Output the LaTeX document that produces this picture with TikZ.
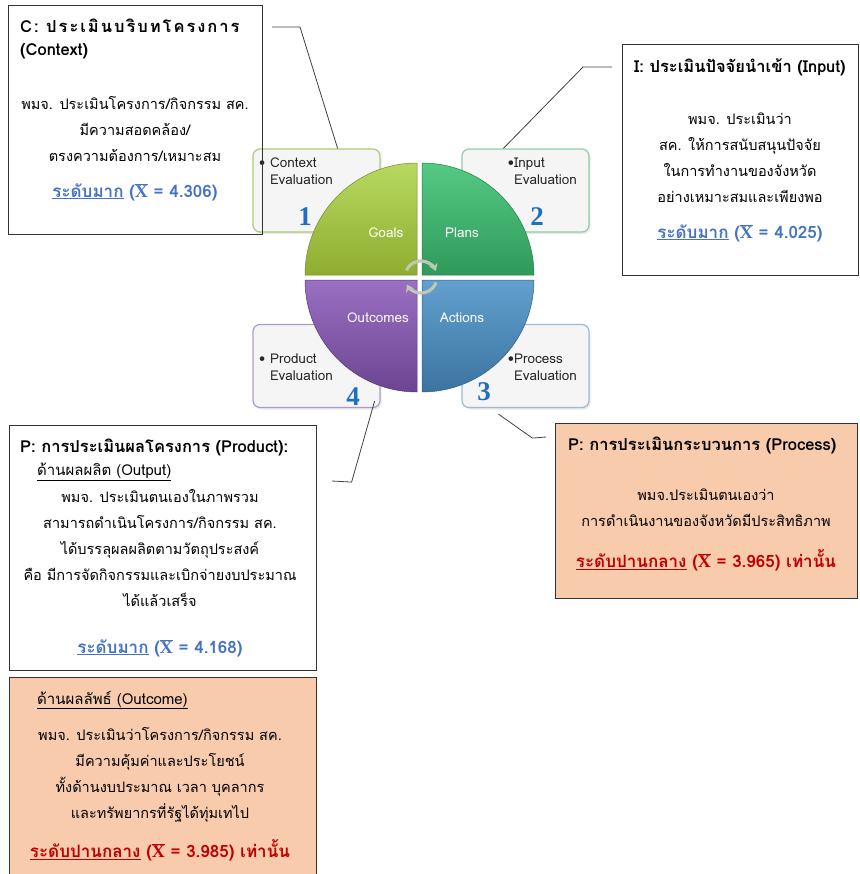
\documentclass[tikz,border=0pt]{standalone}
\usepackage{fontspec}
\setmainfont[Script=Thai]{Loma}
\newfontfamily\numfont{Liberation Serif}
\usepackage{tikz}
\usepackage{xcolor}
\usetikzlibrary{calc,arrows.meta,shadows}

\definecolor{scoreblue}{HTML}{4472C4}
\definecolor{scorered}{HTML}{C00000}
\definecolor{peach}{HTML}{F8CBAD}
\definecolor{numblue}{HTML}{1F6FC0}
\definecolor{ctxline}{HTML}{AFCB78}
\definecolor{inpline}{HTML}{8ED0A5}
\definecolor{procline}{HTML}{9DBAD2}
\definecolor{prodline}{HTML}{AD9ACB}
\definecolor{goalstop}{HTML}{B8D960}
\definecolor{goalsbot}{HTML}{8EAD30}
\definecolor{planstop}{HTML}{55C984}
\definecolor{plansbot}{HTML}{2F9A5A}
\definecolor{outctop}{HTML}{9A70C2}
\definecolor{outcbot}{HTML}{6B4592}
\definecolor{acttop}{HTML}{62A0CF}
\definecolor{actbot}{HTML}{3C74A0}
\definecolor{cycgray}{HTML}{BFC8B2}

\newcommand{\meanx}{$\overline{\hbox{\numfont\bfseries\fontsize{18}{18}\selectfont X}}$}

\begin{document}
\begin{tikzpicture}[x=1pt, y=1pt,
        textbox/.style={draw=black!80, line width=0.9pt, inner sep=0pt},
        evalbox/.style={draw=#1, line width=1.2pt, fill=black!4, rounded corners=7pt,
            minimum width=127pt, minimum height=83pt, inner sep=0pt,
            drop shadow={shadow xshift=1.5pt, shadow yshift=-2pt, opacity=0.18}},
        quadrant/.style={draw=#1!80!black, line width=0.5pt},
        head/.style={anchor=west, inner sep=0pt, font=\fontsize{16.5}{23}\selectfont\bfseries},
        sub/.style={anchor=west, inner sep=0pt, font=\fontsize{15}{18}\selectfont},
        body/.style={align=center, inner sep=0pt, font=\fontsize{14.5}{26}\selectfont},
        score/.style={inner sep=0pt, font=\fontsize{17}{20}\selectfont\bfseries, text=#1},
        evaltext/.style={anchor=west, align=left, inner sep=0pt, font=\fontsize{13.5}{17}\selectfont, text=black!85},
        evalnum/.style={inner sep=0pt, font=\fontsize{27}{27}\selectfont\numfont\bfseries, text=numblue},
        quadtext/.style={text=white, inner sep=0pt, font=\fontsize{13.5}{13.5}\selectfont},
        leader/.style={draw=black!75, line width=0.8pt},
        cyc/.style={draw=cycgray, line width=3.2pt, -{Stealth[length=7pt,width=9pt]}}]
        \useasboundingbox (0,0) rectangle (859,-874);

        \node [evalbox=ctxline] (ctxeval) at (316.5,-190.5) {};
        \node [evalbox=inpline] (inpeval) at (525.5,-190.5) {};
        \node [evalbox=prodline] (prodeval) at (316.5,-366) {};
        \node [evalbox=procline] (proceval) at (525.5,-366) {};

        \node [evaltext] (ctxlbl) at (259,-171) {• Context\\\phantom{• }Evaluation};
        \node [evaltext] (inplbl) at (514,-171) {\llap{•}Input\\Evaluation};
        \node [evaltext] (prodlbl) at (259,-367) {• Product\\\phantom{• }Evaluation};
        \node [evaltext] (proclbl) at (514,-367) {\llap{•}Process\\Evaluation};

        \node [evalnum] (num1) at (305,-217) {1};
        \node [evalnum] (num2) at (537,-217) {2};
        \node [evalnum] (num3) at (484,-392) {3};
        \node [evalnum] (num4) at (353,-397) {4};

        \path [quadrant=goalsbot, top color=goalstop, bottom color=goalsbot]
            (417,-275) -- (305,-275) arc[start angle=180, end angle=90, radius=112] -- cycle;
        \path [quadrant=plansbot, top color=planstop, bottom color=plansbot]
            (422,-275) -- (422,-163) arc[start angle=90, end angle=0, radius=112] -- cycle;
        \path [quadrant=outcbot, top color=outctop, bottom color=outcbot]
            (417,-280) -- (417,-392) arc[start angle=270, end angle=180, radius=112] -- cycle;
        \path [quadrant=actbot, top color=acttop, bottom color=actbot]
            (422,-280) -- (534,-280) arc[start angle=0, end angle=-90, radius=112] -- cycle;

        \node [quadtext] (goals) at (386,-233) {Goals};
        \node [quadtext] (plans) at (462,-233) {Plans};
        \node [quadtext] (outcomes) at (378,-318) {Outcomes};
        \node [quadtext] (actions) at (462,-318) {Actions};

        \coordinate (hub) at (421,-277);
        \draw [cyc] (hub) ++(155:16) arc[start angle=155, end angle=22, radius=16];
        \draw [cyc] (hub) ++(-20:16) arc[start angle=-20, end angle=-152, radius=16];

        \node [textbox, minimum width=254pt, minimum height=229pt] (ctx) at (135,-119.5) {};
        \node [textbox, minimum width=236pt, minimum height=231pt] (inp) at (740,-159.5) {};
        \node [textbox, fill=peach, minimum width=302pt, minimum height=175pt] (proc) at (706,-510.5) {};
        \node [textbox, fill=white, minimum width=307pt, minimum height=245pt] (prod) at (162.5,-547.5) {};
        \node [textbox, fill=peach, minimum width=307pt, minimum height=206pt] (outc) at (162.5,-780) {};

        \node [head, align=left] (ctxhead) at (20,-38.5) {{\addfontfeature{LetterSpace=12}C: ประเมินบริบทโครงการ}\\(Context)};
        \node [body] (ctxbody) at (135,-129) {พมจ. ประเมินโครงการ/กิจกรรม สค.\\มีความสอดคล้อง/\\ตรงความต้องการ/เหมาะสม};
        \node [score=scoreblue] (ctxscore) at (135,-192) {\underline{ระดับมาก} (\meanx{} = 4.306)};

        \node [head] (inphead) at (634,-67) {I: ประเมินปัจจัยนำเข้า (Input)};
        \node [body] (inpbody) at (740,-157.5) {พมจ. ประเมินว่า\\สค. ให้การสนับสนุนปัจจัย\\ในการทำงานของจังหวัด\\อย่างเหมาะสมและเพียงพอ};
        \node [score=scoreblue] (inpscore) at (740,-233) {\underline{ระดับมาก} (\meanx{} = 4.025)};

        \node [head] (prochead) at (568,-445) {P: การประเมินกระบวนการ (Process)};
        \node [body] (procbody) at (706,-508) {พมจ.ประเมินตนเองว่า\\การดำเนินงานของจังหวัดมีประสิทธิภาพ};
        \node [score=scorered] (procscore) at (706,-560) {\underline{ระดับปานกลาง} (\meanx{} = 3.965) เท่านั้น};

        \node [head] (prodhead) at (20,-447) {P: การประเมินผลโครงการ (Product):};
        \node [sub] (prodsub) at (37,-472) {\underline{ด้านผลผลิต (Output)}};
        \node [body] (prodbody) at (160,-548.5) {พมจ. ประเมินตนเองในภาพรวม\\สามารถดำเนินโครงการ/กิจกรรม สค.\\ได้บรรลุผลผลิตตามวัตถุประสงค์\\คือ มีการจัดกิจกรรมและเบิกจ่ายงบประมาณ\\ได้แล้วเสร็จ};
        \node [score=scoreblue] (prodscore) at (160,-648) {\underline{ระดับมาก} (\meanx{} = 4.168)};

        \node [sub] (outcsub) at (37,-700) {\underline{ด้านผลลัพธ์ (Outcome)}};
        \node [body] (outcbody) at (160,-775) {พมจ. ประเมินว่าโครงการ/กิจกรรม สค.\\มีความคุ้มค่าและประโยชน์\\ทั้งด้านงบประมาณ เวลา บุคลากร\\และทรัพยากรที่รัฐได้ทุ่มเทไป};
        \node [score=scorered] (outcscore) at (160,-850) {\underline{ระดับปานกลาง} (\meanx{} = 3.985) เท่านั้น};

        \coordinate (ctxend) at (272,-27);
        \coordinate (inpend) at (612,-67);
        \coordinate (prodend) at (332,-481);
        \coordinate (procend) at (546,-437);

        \draw [leader] (ctxend) -- ++(28,0) -- ([xshift=-43pt]ctxeval.north east);
        \draw [leader] (inpend) -- ++(-29,0) -- ([xshift=42pt]inpeval.north west);
        \draw [leader] ([xshift=-6pt,yshift=7pt]prodeval.south east) -- ++(-23,-81) -- (prodend);
        \draw [leader] ([xshift=37pt,yshift=-6pt]proceval.south west) -- ++(34,-24) -- (procend);
    \end{tikzpicture}
\end{document}
